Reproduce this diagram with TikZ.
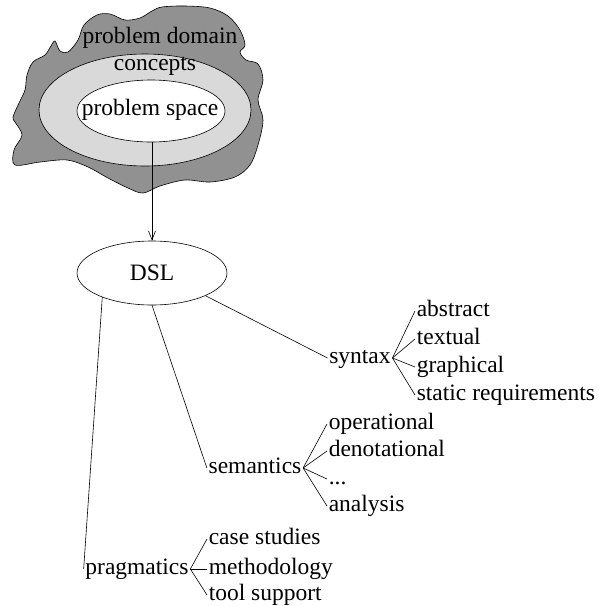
\documentclass[tikz,border=0pt]{standalone}
\usepackage{fontspec}
\setmainfont{Liberation Serif}
\newfontfamily\figfont{Liberation Serif}
\usetikzlibrary{shapes.geometric,arrows.meta}
\definecolor{domaingray}{gray}{0.57}
\definecolor{conceptgray}{gray}{0.85}

\begin{document}
\begin{tikzpicture}[x=1pt,y=-1pt,line width=0.6pt,
    every node/.style={font=\figfont\fontsize{23.5}{28}\selectfont},
    lbl/.style={inner sep=1.5pt,text height=16pt,text depth=6pt},
    leaf/.style={lbl,anchor=base west}]
    \useasboundingbox (0,0) rectangle (598,606);

    % problem domain
    \draw [fill=domaingray] plot [smooth cycle,tension=0.55] coordinates {
        (13,117) (19,103) (25,90) (27,75) (33,62) (45,55) (51,46) (55,41)
        (60,51) (68,52) (78,40) (84,25) (97,15) (110,14) (125,20) (140,18)
        (152,11) (162,7) (185,6) (210,8) (228,16) (240,30) (245,45) (240,52)
        (246,60) (258,64) (263,80) (258,100) (263,120) (258,145) (250,165)
        (235,177) (210,182) (185,180) (160,186) (143,193) (128,188) (108,178)
        (88,167) (67,160) (40,162) (15,165) (14,150) (22,135) (15,122)};
    \draw [fill=conceptgray] (145,110) ellipse [x radius=106, y radius=56];
    \draw [fill=white] (151,111) ellipse [x radius=74, y radius=31];
    \node (domain) at (160,38) {problem domain};
    \node (concepts) at (155,66) {concepts};
    \node (space) at (150,110) {problem space};
    \coordinate (spacebottom) at (152,142);

    % DSL
    \node [draw,ellipse,minimum width=150pt,minimum height=64pt,inner sep=0pt] (dsl) at (152,273) {DSL};
    \draw [-{Straight Barb[length=9pt,width=7pt]}] (spacebottom) -- (dsl.north);

    % syntax
    \node [lbl,anchor=base] (syntax) at (360,363) {syntax};
    \node [leaf] (abstract) at (415,316) {abstract};
    \node [leaf] (textual) at (415,344) {textual};
    \node [leaf] (graphical) at (415,372) {graphical};
    \node [leaf] (static) at (415,400) {static requirements};

    % semantics
    \node [lbl,anchor=base] (semantics) at (255,473) {semantics};
    \node [leaf] (operational) at (327,429) {operational};
    \node [leaf] (denotational) at (327,456) {denotational};
    \node [leaf] (dots) at (327,484) {...};
    \node [leaf] (analysis) at (327,511) {analysis};

    % pragmatics
    \node [lbl,anchor=base] (pragmatics) at (137,574) {pragmatics};
    \node [leaf] (casestudies) at (207,544) {case studies};
    \node [leaf] (methodology) at (207,574) {methodology};
    \node [leaf] (toolsupport) at (207,600) {tool support};

    \draw (dsl.-23) -- (syntax.west);
    \draw (dsl.south) -- (semantics.west);
    \draw (dsl.206) -- (pragmatics.west);

    \foreach \n in {abstract,textual,graphical,static}
        \draw (syntax.east) -- (\n.west);
    \foreach \n in {operational,denotational,dots,analysis}
        \draw (semantics.east) -- (\n.west);
    \foreach \n in {casestudies,methodology,toolsupport}
        \draw (pragmatics.east) -- (\n.west);
\end{tikzpicture}
\end{document}
